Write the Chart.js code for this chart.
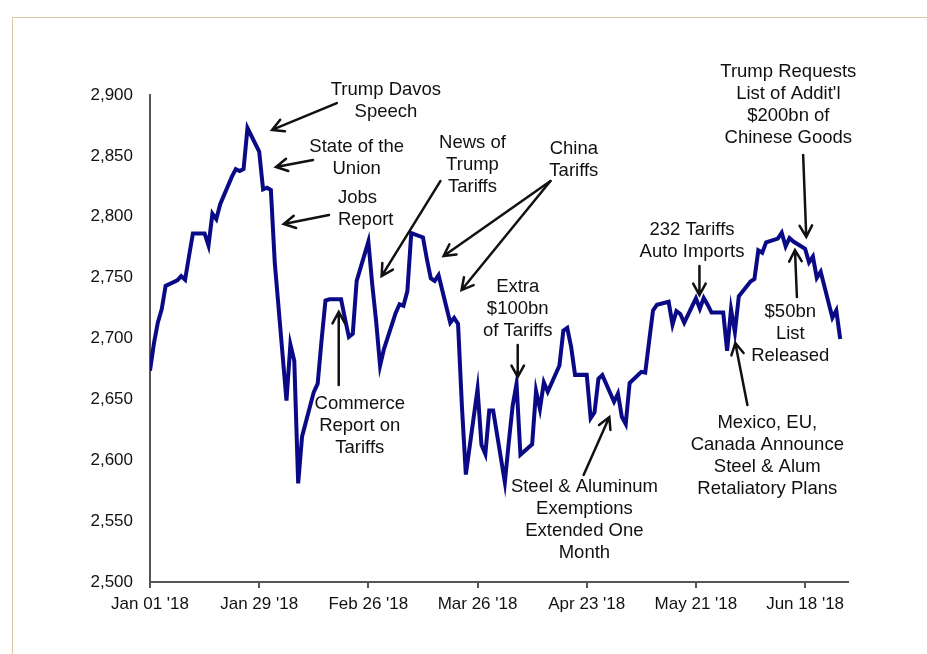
<!DOCTYPE html>
<html>
<head>
<meta charset="utf-8">
<script src="https://cdn.jsdelivr.net/npm/chart.js@4.4.1/dist/chart.umd.min.js"></script>
<style>
  html, body { margin: 0; padding: 0; background: #fff; }
  #wrap { width: 927px; height: 654px; position: relative; }
</style>
</head>
<body>
<div id="wrap"><canvas id="spx" width="927" height="654"></canvas></div>
<script>
// S&P 500 daily close, weekdays of 2018 (holidays carry the previous close)
const dates = [
  '01-01','01-02','01-03','01-04','01-05','01-08','01-09','01-10','01-11','01-12','01-15','01-16','01-17','01-18','01-19','01-22','01-23','01-24','01-25','01-26','01-29','01-30','01-31',
  '02-01','02-02','02-05','02-06','02-07','02-08','02-09','02-12','02-13','02-14','02-15','02-16','02-19','02-20','02-21','02-22','02-23','02-26','02-27','02-28',
  '03-01','03-02','03-05','03-06','03-07','03-08','03-09','03-12','03-13','03-14','03-15','03-16','03-19','03-20','03-21','03-22','03-23','03-26','03-27','03-28','03-29','03-30',
  '04-02','04-03','04-04','04-05','04-06','04-09','04-10','04-11','04-12','04-13','04-16','04-17','04-18','04-19','04-20','04-23','04-24','04-25','04-26','04-27','04-30',
  '05-01','05-02','05-03','05-04','05-07','05-08','05-09','05-10','05-11','05-14','05-15','05-16','05-17','05-18','05-21','05-22','05-23','05-24','05-25','05-28','05-29','05-30','05-31',
  '06-01','06-04','06-05','06-06','06-07','06-08','06-11','06-12','06-13','06-14','06-15','06-18','06-19','06-20','06-21','06-22','06-25','06-26','06-27'
];
const closes = [
  2673.61,2695.81,2713.06,2723.99,2743.15,2747.71,2751.29,2748.23,2767.56,2786.24,2786.24,2776.42,2802.56,2798.03,2810.30,2832.97,2839.13,2837.54,2839.25,2872.87,2853.53,2822.43,2823.81,
  2821.98,2762.13,2648.94,2695.14,2681.66,2581.00,2619.55,2656.00,2662.94,2698.63,2731.20,2732.22,2732.22,2716.26,2701.33,2703.96,2747.30,2779.60,2744.28,2713.83,
  2677.67,2691.25,2720.94,2728.12,2726.80,2738.97,2786.57,2783.02,2765.31,2749.48,2747.33,2752.01,2712.92,2716.94,2711.93,2643.69,2588.26,2658.55,2612.62,2605.00,2640.87,2640.87,
  2581.88,2614.45,2644.69,2662.84,2604.47,2613.16,2656.87,2642.19,2663.99,2656.30,2677.84,2706.39,2708.64,2693.13,2670.14,2670.29,2634.56,2639.40,2666.94,2669.91,2648.05,
  2654.80,2635.67,2629.73,2663.42,2672.63,2671.92,2697.79,2723.07,2727.72,2730.13,2711.45,2722.46,2720.13,2712.97,2733.01,2724.44,2733.29,2727.76,2721.33,2721.33,2689.86,2724.01,2705.27,
  2734.62,2746.87,2748.80,2772.35,2770.37,2779.03,2782.00,2786.85,2775.63,2782.49,2779.66,2773.75,2762.59,2767.32,2749.76,2754.88,2717.07,2723.06,2699.63
];
const tickDates = ['01-01','01-29','02-26','03-26','04-23','05-21','06-18'];
const tickLabels = ["Jan 01 '18","Jan 29 '18","Feb 26 '18","Mar 26 '18","Apr 23 '18","May 21 '18","Jun 18 '18"];
const axisEnd = '06-29';

// days since Jan 1 2018
function dayOf(md) {
  const [m, d] = md.split('-').map(Number);
  return (Date.UTC(2018, m - 1, d) - Date.UTC(2018, 0, 1)) / 86400000;
}

// event notes: text anchor (day, index level) and arrows [from, to]
const notes = [
  { lines: ['Trump Davos', 'Speech'], at: [60.5, 2904], arrows: [[[47.9, 2893.4], [31.3, 2871.3]]] },
  { lines: ['State of the', 'Union'], at: [53.0, 2857.5], arrows: [[[41.8, 2846.6], [32.3, 2840.9]]] },
  { lines: ['Jobs', 'Report'], at: [48.2, 2815.6], align: 'left', arrows: [[[45.9, 2801.4], [34.3, 2794.0]]] },
  { lines: ['News of', 'Trump', 'Tariffs'], at: [82.7, 2860.8], arrows: [[[74.5, 2829.4], [59.4, 2751.3]]] },
  { lines: ['China', 'Tariffs'], at: [108.7, 2855.6], arrows: [[[102.7, 2829.4], [75.3, 2767.8]], [[102.7, 2829.4], [79.9, 2739.8]]] },
  { lines: ['Extra', '$100bn', 'of Tariffs'], at: [94.3, 2742.5], arrows: [[[94.3, 2694.7], [94.3, 2668.4]]] },
  { lines: ['Commerce', 'Report on', 'Tariffs'], at: [53.8, 2646.2], arrows: [[[48.4, 2661.8], [48.4, 2721.8]]] },
  { lines: ['Steel & Aluminum', 'Exemptions', 'Extended One', 'Month'], at: [111.4, 2578.0], arrows: [[[111.2, 2587.9], [117.8, 2635.5]]] },
  { lines: ['232 Tariffs', 'Auto Imports'], at: [139.0, 2789.1], arrows: [[[140.9, 2759.5], [140.9, 2735.7]]] },
  { lines: ['Trump Requests', "List of Addit'l", '$200bn of', 'Chinese Goods'], at: [163.7, 2919.1], arrows: [[[167.5, 2850.7], [168.3, 2783.4]]] },
  { lines: ['$50bn', 'List', 'Released'], at: [164.2, 2722.0], arrows: [[[165.9, 2734.1], [165.4, 2772.7]]] },
  { lines: ['Mexico, EU,', 'Canada Announce', 'Steel & Alum', 'Retaliatory Plans'], at: [158.3, 2630.6], arrows: [[[153.2, 2645.4], [150.1, 2696.3]]] }
];

const points = dates.map((d, i) => ({ x: dayOf(d), y: closes[i] }));
const FONT = '"Liberation Sans", Arial, Helvetica, sans-serif';

const notesPlugin = {
  id: 'notes',
  beforeDraw(chart) {
    const c = chart.ctx;
    c.save();
    c.fillStyle = '#fff';
    c.fillRect(0, 0, chart.width, chart.height);
    // slide frame
    c.strokeStyle = '#d8c9a6';
    c.lineWidth = 1;
    c.beginPath();
    c.moveTo(12.5, chart.height);
    c.lineTo(12.5, 17.5);
    c.lineTo(chart.width, 17.5);
    c.stroke();
    c.restore();
  },
  afterDraw(chart) {
    const c = chart.ctx;
    const xs = chart.scales.x, ys = chart.scales.y;
    const px = p => [xs.getPixelForValue(p[0]), ys.getPixelForValue(p[1])];
    c.save();
    c.fillStyle = '#111';
    c.strokeStyle = '#111';
    c.font = '18.5px ' + FONT;
    c.textBaseline = 'middle';
    c.lineWidth = 2.5;
    c.lineCap = 'round';
    notes.forEach(n => {
      const [tx, ty] = px(n.at);
      c.textAlign = n.align || 'center';
      n.lines.forEach((t, i) => c.fillText(t, tx, ty + i * 22));
      n.arrows.forEach(a => {
        const [x1, y1] = px(a[0]);
        const [x2, y2] = px(a[1]);
        const ang = Math.atan2(y2 - y1, x2 - x1);
        c.beginPath();
        c.moveTo(x1, y1);
        c.lineTo(x2, y2);
        c.moveTo(x2 - 13 * Math.cos(ang - 0.5), y2 - 13 * Math.sin(ang - 0.5));
        c.lineTo(x2, y2);
        c.lineTo(x2 - 13 * Math.cos(ang + 0.5), y2 - 13 * Math.sin(ang + 0.5));
        c.stroke();
      });
    });
    c.restore();
  }
};

new Chart(document.getElementById('spx'), {
  type: 'line',
  data: {
    datasets: [{
      data: points,
      borderColor: '#0a0a86',
      borderWidth: 4,
      pointRadius: 0,
      tension: 0,
      fill: false
    }]
  },
  options: {
    responsive: false,
    animation: false,
    layout: { padding: { left: 0, top: 95, right: 79, bottom: 0 } },
    plugins: { legend: { display: false }, tooltip: { enabled: false } },
    scales: {
      x: {
        type: 'linear',
        min: 0,
        max: dayOf(axisEnd),
        afterBuildTicks: s => { s.ticks = tickDates.map(d => ({ value: dayOf(d) })); },
        afterFit: s => { s.height = 72; },
        grid: { drawOnChartArea: false, drawTicks: true, tickLength: 6, color: '#555', lineWidth: 2 },
        border: { display: true, color: '#555', width: 2 },
        ticks: {
          autoSkip: false,
          maxRotation: 0,
          padding: 6,
          color: '#111',
          font: { family: FONT, size: 17 },
          callback: v => tickLabels[tickDates.findIndex(d => dayOf(d) === v)]
        }
      },
      y: {
        min: 2500,
        max: 2900,
        afterFit: s => { s.width = 150; },
        grid: { display: false, drawTicks: false },
        border: { display: true, color: '#555', width: 2 },
        ticks: {
          stepSize: 50,
          padding: 17,
          color: '#111',
          font: { family: FONT, size: 17 },
          callback: v => v.toLocaleString('en-US')
        }
      }
    }
  },
  plugins: [notesPlugin]
});
</script>
</body>
</html>
